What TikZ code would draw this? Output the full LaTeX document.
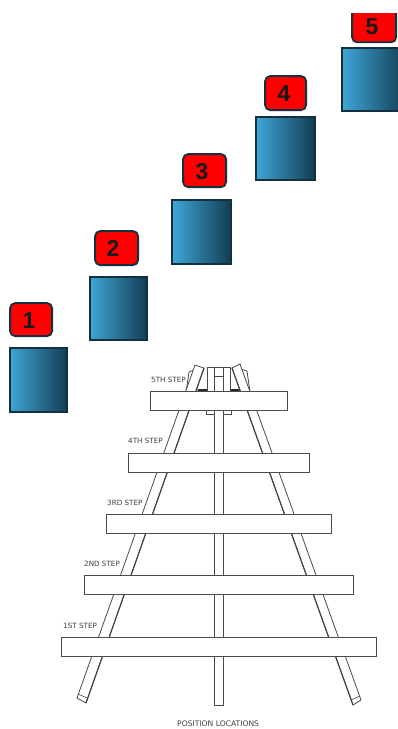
\documentclass[tikz,border=0pt]{standalone}
\usepackage{fontspec}
\setmainfont{Liberation Sans}
\newfontfamily\labelfont{DejaVu Sans}
\definecolor{edgeblue}{HTML}{12303F}
\definecolor{lightblue}{HTML}{3FA6D6}
\definecolor{midblue}{HTML}{1F6F94}
\definecolor{darkblue}{HTML}{123C52}
\definecolor{wood}{HTML}{4A4A4A}
\tikzset{
  bluebox/.style={draw=edgeblue,line width=1.8pt,left color=lightblue,middle color=midblue,right color=darkblue,inner sep=0pt,anchor=north west},
  redtag/.style={draw=edgeblue,line width=1.8pt,fill=red,rounded corners=5pt,inner sep=0pt,anchor=north west},
  digit/.style={font=\bfseries\fontsize{23}{23}\selectfont,text=black!90,inner sep=0pt},
  timber/.style={draw=wood,line width=0.8pt,fill=white,line join=round},
  board/.style={draw=wood,line width=0.8pt,fill=white,inner sep=0pt,anchor=north west},
  boardshadow/.style={draw=black!70,line width=1.2pt},
  steplabel/.style={font=\labelfont\fontsize{7.2}{8}\selectfont,text=black!75,inner sep=0pt,anchor=west},
  caplabel/.style={font=\labelfont\fontsize{7.6}{8}\selectfont,text=black!75,inner sep=0pt,anchor=west}
}
\begin{document}
\begin{tikzpicture}[x=1pt,y=-1pt]
\useasboundingbox (0,0) rectangle (398,729);
\fill[white] (0,0) rectangle (398,729);
\begin{scope}
\clip (0,13) rectangle (398,729);
\node[bluebox,minimum width=57pt,minimum height=64pt] (s1) at (9.2,347.2) {};
\node[bluebox,minimum width=57pt,minimum height=63pt] (s2) at (89.2,276.2) {};
\node[bluebox,minimum width=59pt,minimum height=64pt] (s3) at (171.2,199.2) {};
\node[bluebox,minimum width=59pt,minimum height=63pt] (s4) at (255.2,116.2) {};
\node[bluebox,minimum width=65pt,minimum height=63pt] (s5) at (341.2,47.2) {};
\node[redtag,minimum width=42pt,minimum height=33pt] (n1) at (9.2,302.2) {};
\node[redtag,minimum width=43pt,minimum height=34pt] (n2) at (94.2,230.2) {};
\node[redtag,minimum width=43pt,minimum height=33pt] (n3) at (182.2,153.2) {};
\node[redtag,minimum width=41pt,minimum height=34pt] (n4) at (264.2,75.2) {};
\node[redtag,minimum width=44pt,minimum height=40pt,anchor=south west] (n5) at (351.2,43.2) {};
\node[digit] (t1) at (29,320.5) {1};
\node[digit] (t2) at (113,248.5) {2};
\node[digit] (t3) at (202,171.5) {3};
\node[digit] (t4) at (284,93.5) {4};
\node[digit] (t5) at (372,26.5) {5};
\end{scope}
% back pieces at the top
\draw[timber] (189,372) -- (196,369) -- (197,392) -- (186,392) -- cycle;
\draw[timber] (241,369) -- (247,371) -- (250,392) -- (240,392) -- cycle;
% head block around the post
\draw[timber] (207,367) rectangle (230,391);
\draw[line width=1.6pt,black!85] (198,390) -- (207,390);
\draw[line width=1.6pt,black!85] (231,390) -- (240,390);
% legs
\draw[timber] (195,365) -- (204,368) -- (86,703) -- (77,698) -- cycle;
\draw[timber] (240,364) -- (232,368) -- (353,705) -- (361,700) -- cycle;
\draw[draw=black!75,line width=1.1pt] (204,368) -- (86,703);
\draw[draw=black!75,line width=1.1pt] (232,368) -- (353,705);
\draw[wood,line width=0.6pt] (78,694) -- (87,698);
\draw[wood,line width=0.6pt] (360,696) -- (351,700);
% centre post
\draw[timber] (206,410) rectangle (231,414);
\draw[timber] (214,367) rectangle (223,705);
\draw[wood,line width=0.6pt] (214,376) -- (223,376);
% boards
\foreach \nm/\x/\y/\w in {b5/150/391/137,b4/128/453/181,b3/106/514/225,b2/84/575/269,b1/61/637/315}{
  \node[board,minimum width=\w pt,minimum height=19pt] (\nm) at (\x,\y) {};
  \draw[boardshadow] (\nm.south west) -- (\nm.south east);
}
% labels
\node[steplabel] (l5) at (151,380) {5TH STEP};
\node[steplabel] (l4) at (128,441) {4TH STEP};
\node[steplabel] (l3) at (107,503) {3RD STEP};
\node[steplabel] (l2) at (84,564) {2ND STEP};
\node[steplabel] (l1) at (63,626) {1ST STEP};
\node[caplabel] (cap) at (177,724) {POSITION LOCATIONS};
\end{tikzpicture}
\end{document}
